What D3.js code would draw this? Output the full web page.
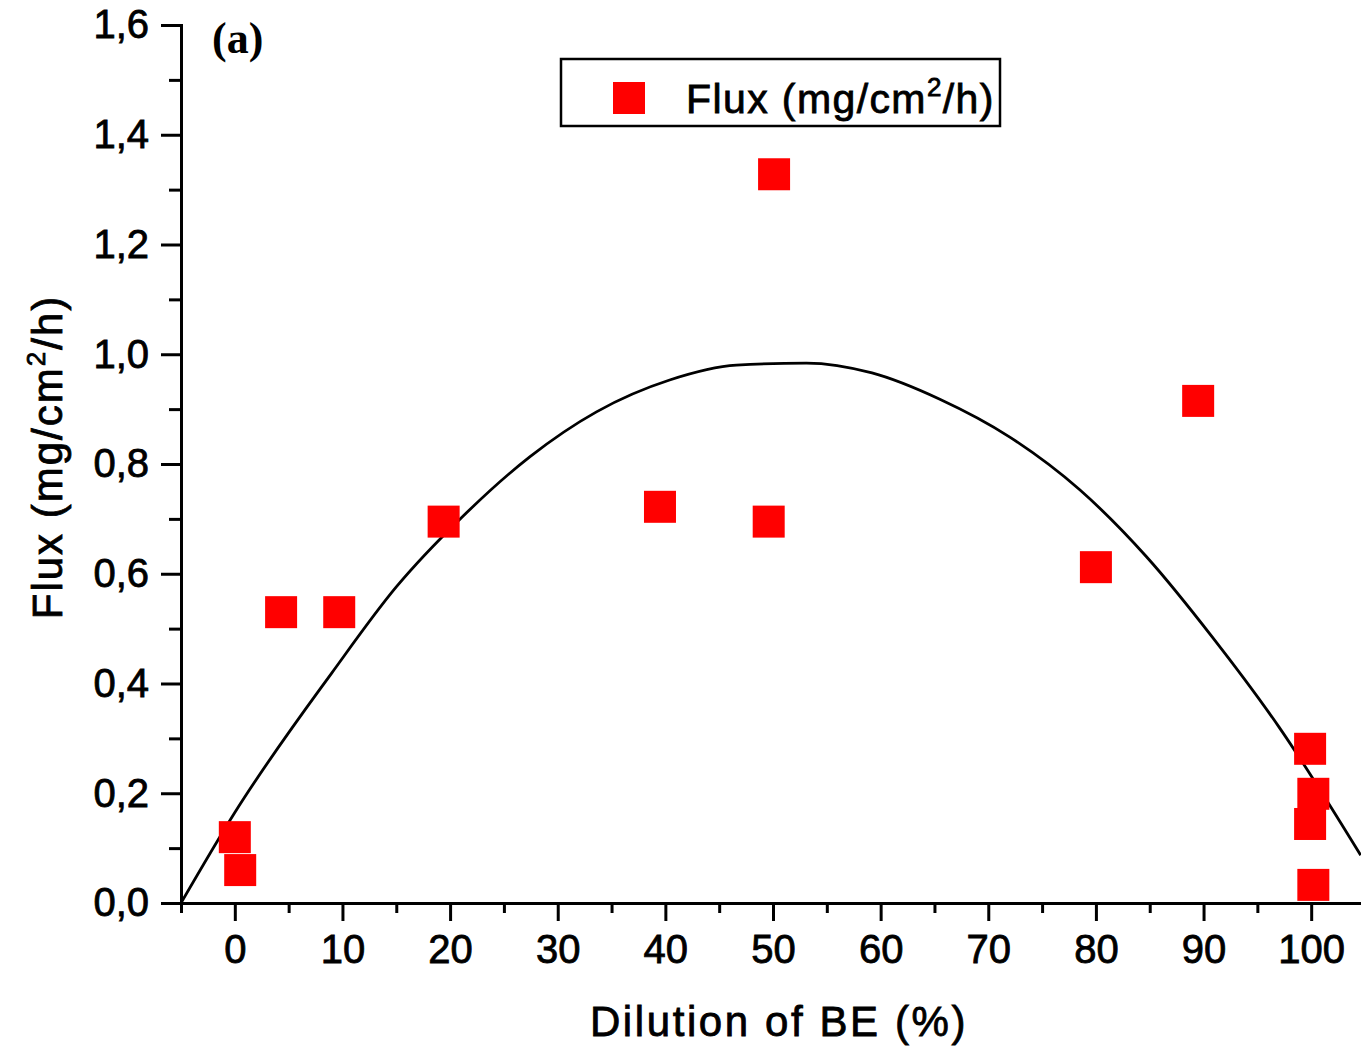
<!DOCTYPE html>
<html>
<head>
<meta charset="utf-8">
<script src="https://cdn.jsdelivr.net/npm/d3@7"></script>
<style>
  html, body { margin: 0; padding: 0; background: #fff; }
  svg { display: block; }
  text { font-family: "Liberation Sans", Arial, sans-serif; fill: #000; }
</style>
</head>
<body>
<svg id="chart" width="1361" height="1049"></svg>
<script>
// Measured flux per dilution level
const dilution = [0, 0.5, 4.3, 9.7, 19.4, 39.5, 49.6, 50.1, 80.0, 89.5, 99.9, 100.2, 99.9, 100.2];
const flux     = [0.12, 0.06, 0.53, 0.53, 0.695, 0.722, 0.695, 1.328, 0.612, 0.915, 0.281, 0.199, 0.144, 0.033];

// Fitted trend line, sampled along its length
const fitX = [-5, 0, 9.0, 15.0, 21.1, 27.4, 33.6, 40.4, 46.6, 53.1, 59.2, 65.5, 72.0, 78.5, 84.7, 90.8, 97.0, 104.6];
const fitY = [0, 0.165, 0.419, 0.576, 0.703, 0.813, 0.895, 0.953, 0.980, 0.984, 0.966, 0.918, 0.849, 0.753, 0.631, 0.485, 0.321, 0.087];

const xTicks = [0, 10, 20, 30, 40, 50, 60, 70, 80, 90, 100];
const yTicks = [0, 0.2, 0.4, 0.6, 0.8, 1.0, 1.2, 1.4, 1.6];

const svg = d3.select("#chart");
const plotL = 181, plotR = 1365, plotT = 25, plotB = 903;

const x = d3.scaleLinear().domain([-5, 105]).range([plotL, plotR]);
const y = d3.scaleLinear().domain([0, 1.6]).range([plotB, plotT]);

const fmt = d => d3.format(".1f")(d).replace(".", ",");

// Minor ticks
const xMinor = d3.range(-5, 106, 5).filter(v => v % 10 !== 0);
const yMinor = d3.range(0.1, 1.6, 0.2);

const gx = svg.append("g").attr("transform", `translate(0,${plotB})`);
gx.call(d3.axisBottom(x).tickValues(xMinor).tickSize(10).tickFormat(""));
gx.append("g").call(d3.axisBottom(x).tickValues(xTicks).tickSize(18).tickSizeOuter(0).tickPadding(14).tickFormat(d3.format("d")));
gx.selectAll(".domain").attr("stroke-width", 3);
gx.selectAll("line").attr("stroke-width", 3);
gx.selectAll("text").attr("font-size", 40).attr("stroke", "#000").attr("stroke-width", 0.8);

const gy = svg.append("g").attr("transform", `translate(${plotL},0)`);
gy.call(d3.axisLeft(y).tickValues(yMinor).tickSize(12).tickFormat(""));
gy.append("g").call(d3.axisLeft(y).tickValues(yTicks).tickSize(20).tickSizeOuter(0).tickPadding(12).tickFormat(fmt));
gy.selectAll(".domain").attr("stroke-width", 3);
gy.selectAll("line").attr("stroke-width", 3);
gy.selectAll("text").attr("font-size", 40).attr("stroke", "#000").attr("stroke-width", 0.8);

// Clip region for plotted marks
svg.append("clipPath").attr("id", "plot")
  .append("rect").attr("x", plotL).attr("y", 0).attr("width", plotR - plotL).attr("height", plotB);

const fit = fitX.map((v, i) => [v, fitY[i]]);
svg.append("path")
  .attr("clip-path", "url(#plot)")
  .attr("d", d3.line().x(d => x(d[0])).y(d => y(d[1])).curve(d3.curveMonotoneX)(fit))
  .attr("fill", "none").attr("stroke", "#000").attr("stroke-width", 2.8);

const pts = dilution.map((v, i) => [v, flux[i]]);
const s = 32;
svg.append("g").selectAll("rect").data(pts).join("rect")
  .attr("x", d => x(d[0]) - s / 2).attr("y", d => y(d[1]) - s / 2)
  .attr("width", s).attr("height", s).attr("fill", "#ff0000");

// Axis titles
svg.append("text")
  .attr("x", 779).attr("y", 1036).attr("text-anchor", "middle")
  .attr("font-size", 42).attr("letter-spacing", 2.6)
  .attr("stroke", "#000").attr("stroke-width", 0.8)
  .text("Dilution of BE (%)");

const yt = svg.append("text")
  .attr("transform", `translate(62,457) rotate(-90)`).attr("text-anchor", "middle")
  .attr("font-size", 42).attr("letter-spacing", 2)
  .attr("stroke", "#000").attr("stroke-width", 0.8);
yt.append("tspan").text("Flux (mg/cm");
yt.append("tspan").attr("font-size", 26).attr("dy", -17).text("2");
yt.append("tspan").attr("dy", 17).text("/h)");

// Panel label
svg.append("text")
  .attr("x", 212).attr("y", 53)
  .style("font-family", "'Liberation Serif', 'Times New Roman', serif")
  .attr("font-weight", "bold").attr("font-size", 44)
  .text("(a)");

// Legend
const lg = svg.append("g");
lg.append("rect").attr("x", 561).attr("y", 59).attr("width", 439).attr("height", 67)
  .attr("fill", "none").attr("stroke", "#000").attr("stroke-width", 2.5);
lg.append("rect").attr("x", 613).attr("y", 82).attr("width", s).attr("height", s).attr("fill", "#ff0000");
const lt = lg.append("text").attr("x", 686).attr("y", 113)
  .attr("font-size", 41).attr("letter-spacing", 1.4)
  .attr("stroke", "#000").attr("stroke-width", 0.8);
lt.append("tspan").text("Flux (mg/cm");
lt.append("tspan").attr("font-size", 26).attr("dy", -17).text("2");
lt.append("tspan").attr("dy", 17).text("/h)");
</script>
</body>
</html>
